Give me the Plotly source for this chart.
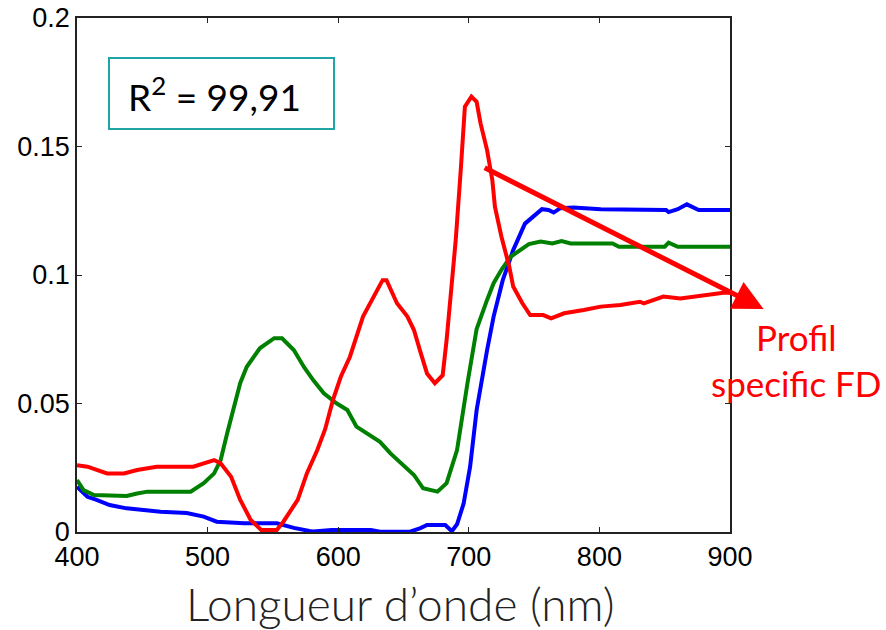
import plotly.graph_objects as go

# Blue spectrum
wl_blue = [400, 405, 408, 415, 425, 438, 451, 464, 484, 497, 507, 528, 553, 566, 578, 581, 595, 625, 632,
           655, 663, 668, 682, 687, 691, 696, 701, 706, 714, 719, 726, 734, 743, 749, 756, 761, 765, 770,
           780, 801, 851, 853, 860, 867, 876, 900]
abs_blue = [0.0176, 0.0150, 0.0137, 0.0125, 0.0105, 0.0092, 0.0086, 0.0079, 0.0074, 0.0060, 0.0040, 0.0034,
            0.0034, 0.0016, 0.0004, 0.0002, 0.0008, 0.0008, 0.0001, 0.0001, 0.0015, 0.0027, 0.0027, 0.0003,
            0.0030, 0.0110, 0.0254, 0.0475, 0.0708, 0.0838, 0.0980, 0.1097, 0.1200, 0.1227, 0.1256, 0.1253,
            0.1243, 0.1260, 0.1263, 0.1256, 0.1253, 0.1245, 0.1256, 0.1275, 0.1253, 0.1253]

# Green spectrum
wl_green = [400, 405, 413, 438, 446, 454, 487, 497, 505, 510, 515, 520, 525, 530, 540, 551, 557, 566, 574,
            581, 589, 599, 607, 614, 622, 632, 640, 648, 658, 665, 676, 683, 691, 699, 706, 714, 719, 725,
            732, 746, 755, 764, 771, 778, 810, 815, 850, 853, 860, 900]
abs_green = [0.0202, 0.0163, 0.0144, 0.0140, 0.0150, 0.0157, 0.0157, 0.0190, 0.0228, 0.0280, 0.0384, 0.0488,
             0.0580, 0.0643, 0.0715, 0.0754, 0.0754, 0.0708, 0.0640, 0.0590, 0.0540, 0.0500, 0.0475, 0.0410,
             0.0384, 0.0351, 0.0306, 0.0267, 0.0222, 0.0170, 0.0157, 0.0190, 0.0319, 0.0580, 0.0790, 0.0903,
             0.0968, 0.1020, 0.1071, 0.1120, 0.1130, 0.1123, 0.1132, 0.1123, 0.1123, 0.1110, 0.1110, 0.1126,
             0.1110, 0.1110]

# Red spectrum
wl_red = [400, 408, 423, 436, 446, 461, 489, 497, 505, 510, 518, 525, 533, 541, 553, 558, 569, 576, 584,
          590, 596, 602, 609, 619, 627, 634, 637, 645, 653, 658, 663, 668, 674, 680, 683, 686, 690, 694,
          697, 702, 706, 709, 714, 718, 720, 725, 731, 734, 741, 747, 757, 763, 773, 788, 801, 816, 831,
          834, 849, 862, 880, 895, 900]
abs_red = [0.0260, 0.0254, 0.0228, 0.0228, 0.0241, 0.0254, 0.0254, 0.0267, 0.0280, 0.0267, 0.0215, 0.0125,
           0.0047, 0.0008, 0.0008, 0.0040, 0.0125, 0.0228, 0.0319, 0.0400, 0.0514, 0.0604, 0.0682, 0.0838,
           0.0916, 0.0980, 0.0980, 0.0890, 0.0838, 0.0786, 0.0700, 0.0617, 0.0579, 0.0610, 0.0747, 0.0903,
           0.1136, 0.1421, 0.1655, 0.1694, 0.1674, 0.1590, 0.1486, 0.1370, 0.1266, 0.1149, 0.1032, 0.0955,
           0.0890, 0.0844, 0.0844, 0.0831, 0.0851, 0.0864, 0.0877, 0.0883, 0.0896, 0.0890, 0.0916, 0.0909,
           0.0922, 0.0931, 0.0931]

x_ticks = [400, 500, 600, 700, 800, 900]
y_ticks = [0, 0.05, 0.1, 0.15, 0.2]
y_tick_labels = ["0", "0.05", "0.1", "0.15", "0.2"]

r2_text = "R<sup>2</sup> = 99,91"
arrow_from = (711, 0.142)
arrow_to = (925.7, 0.0868)

fig = go.Figure()
for wl, ab, col in [(wl_blue, abs_blue, "#0000ff"), (wl_green, abs_green, "#008000"), (wl_red, abs_red, "#ff0000")]:
    fig.add_trace(go.Scatter(x=wl, y=ab, mode="lines", line=dict(color=col, width=4), showlegend=False))

axis_common = dict(showline=True, linecolor="#222222", linewidth=1.5, mirror="ticks", ticks="inside",
                   ticklen=5, tickcolor="#222222", showgrid=False, zeroline=False, automargin=False,
                   tickfont=dict(family="Liberation Sans, Arial", size=27, color="#000000"))

fig.update_layout(
    width=886, height=630,
    margin=dict(l=77, r=156, t=18, b=98),
    paper_bgcolor="white", plot_bgcolor="white",
    xaxis=dict(range=[400, 900], tickvals=x_ticks, ticktext=[str(t) for t in x_ticks], **axis_common),
    yaxis=dict(range=[0, 0.2], tickvals=y_ticks, ticktext=y_tick_labels, **axis_common),
)

# x-axis title
fig.add_annotation(xref="paper", yref="paper", x=0.496, y=-0.14, xanchor="center", yanchor="middle",
                   text="Longueur d\u2019onde (nm)", showarrow=False,
                   font=dict(family="Lato", size=46, color="#222222", weight=300))

fig.add_shape(type="rect", xref="paper", yref="paper", x0=0.049, x1=0.3936, y0=0.784, y1=0.922,
              line=dict(color="#1fa5a5", width=2), fillcolor="white", layer="above")
fig.add_annotation(xref="paper", yref="paper", x=0.075, y=0.853, xanchor="left", yanchor="middle",
                   text=r2_text, showarrow=False, font=dict(family="Lato", size=37, color="#000000"))

fig.add_annotation(x=arrow_to[0], y=arrow_to[1], ax=arrow_from[0], ay=arrow_from[1],
                   xref="x", yref="y", axref="x", ayref="y", text="", showarrow=True,
                   arrowhead=2, arrowsize=1.2, arrowwidth=5, arrowcolor="#ff0000", standoff=0)
fig.add_annotation(xref="paper", yref="paper", x=1.101, y=0.335, xanchor="center", yanchor="middle",
                   text="Profil<br>specific FD", showarrow=False, align="center",
                   font=dict(family="Lato", size=35, color="#ff0000"))

fig.write_html("out.html", config={"displayModeBar": False},
               post_script="document.body.style.margin='0';document.body.style.overflow='hidden';")
